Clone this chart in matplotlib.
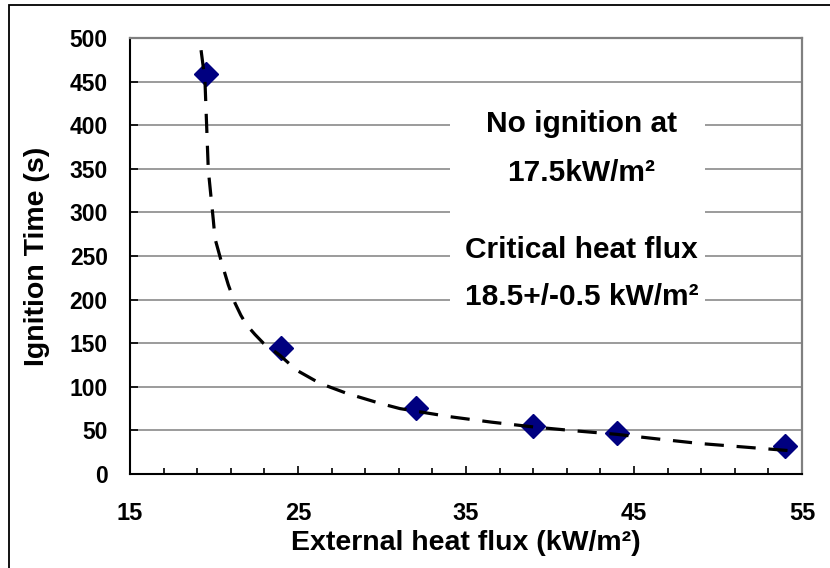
import matplotlib
matplotlib.use("Agg")
import matplotlib.pyplot as plt
from matplotlib.patches import Rectangle

plt.rcParams["font.family"] = ["Liberation Sans", "DejaVu Sans"]
plt.rcParams["font.weight"] = "bold"

# -------------------------------
# Data
# -------------------------------
heat_flux = [19.5, 24, 32, 39, 44, 54]
ign_time = [459, 144, 76, 55, 47, 32]

# dashed fit curve
fit_flux = [19.23, 19.46, 19.66, 19.96, 20.06, 20.46, 20.85, 21.25, 21.6, 21.94,
            22.44, 22.94, 23.93, 24.92, 26.3, 27.9, 29.88, 31.07, 32.66, 34.05,
            36.5, 39.0, 41.5, 43.97, 46.5, 48.9, 51.5, 54.3]
fit_time = [486, 452, 349, 291, 270, 242, 217, 196, 182, 171,
            160, 150, 136, 119, 104, 92.5, 81, 75, 70, 65.7,
            59.5, 54, 49.5, 45.5, 40, 35, 31, 26.7]

x_major = [15, 25, 35, 45, 55]
x_minor = [17, 19, 21, 23, 27, 29, 31, 33, 37, 39, 41, 43, 47, 49, 51, 53]
y_major = [0, 50, 100, 150, 200, 250, 300, 350, 400, 450, 500]

# -------------------------------
# Figure
# -------------------------------
fig = plt.figure(figsize=(8.3, 5.68), dpi=100)
ax = fig.add_axes([130 / 830, 94 / 568, 672 / 830, 436 / 568])

# outer frame
fig.add_artist(Rectangle((9 / 830, -0.1), 1.2, 1.1 - 5 / 568, transform=fig.transFigure,
                         fill=False, edgecolor="black", linewidth=1.3))

ax.set_xlim(15, 55)
ax.set_ylim(0, 500)

ax.yaxis.grid(True, color="#808080", linewidth=1.1)
ax.set_axisbelow(True)

# white box behind the notes
ax.add_patch(Rectangle((0.476, 0.353), 0.38, 0.516, transform=ax.transAxes,
                       facecolor="white", edgecolor="none", zorder=1))

ax.plot(fit_flux, fit_time, color="black", linestyle=(0, (6, 4)), linewidth=2.3, zorder=3)
ax.plot(heat_flux, ign_time, linestyle="none", marker="D", markersize=12.5,
        color="#000080", markeredgecolor="#000080", zorder=2)

notes = [("No ignition at", 0.803), ("17.5kW/m²", 0.69),
         ("Critical heat flux", 0.514), ("18.5+/-0.5 kW/m²", 0.406)]
for txt, yy in notes:
    ax.text(0.672, yy, txt, transform=ax.transAxes, ha="center", va="center",
            fontsize=21.5, fontweight="bold", zorder=4)

# axes styling
for side in ["left", "bottom"]:
    ax.spines[side].set_color("black")
    ax.spines[side].set_linewidth(1.5)
for side in ["top", "right"]:
    ax.spines[side].set_color("#808080")
    ax.spines[side].set_linewidth(1.6)

ax.set_xticks(x_major)
ax.set_xticks(x_minor, minor=True)
ax.set_yticks(y_major)
ax.tick_params(axis="x", which="major", direction="in", length=6, width=1.2,
               pad=20, labelsize=17)
ax.tick_params(axis="x", which="minor", direction="in", length=4.5, width=1.2)
ax.tick_params(axis="y", which="major", direction="in", length=6, width=1.2,
               pad=16, labelsize=16.5)
for lab in ax.get_xticklabels() + ax.get_yticklabels():
    lab.set_fontweight("bold")

ax.set_xlabel("External heat flux (kW/m²)", fontsize=20.5, fontweight="bold", labelpad=4)
ax.set_ylabel("Ignition Time (s)", fontsize=20.5, fontweight="bold", labelpad=14)

fig.savefig("out.png", dpi=100)
